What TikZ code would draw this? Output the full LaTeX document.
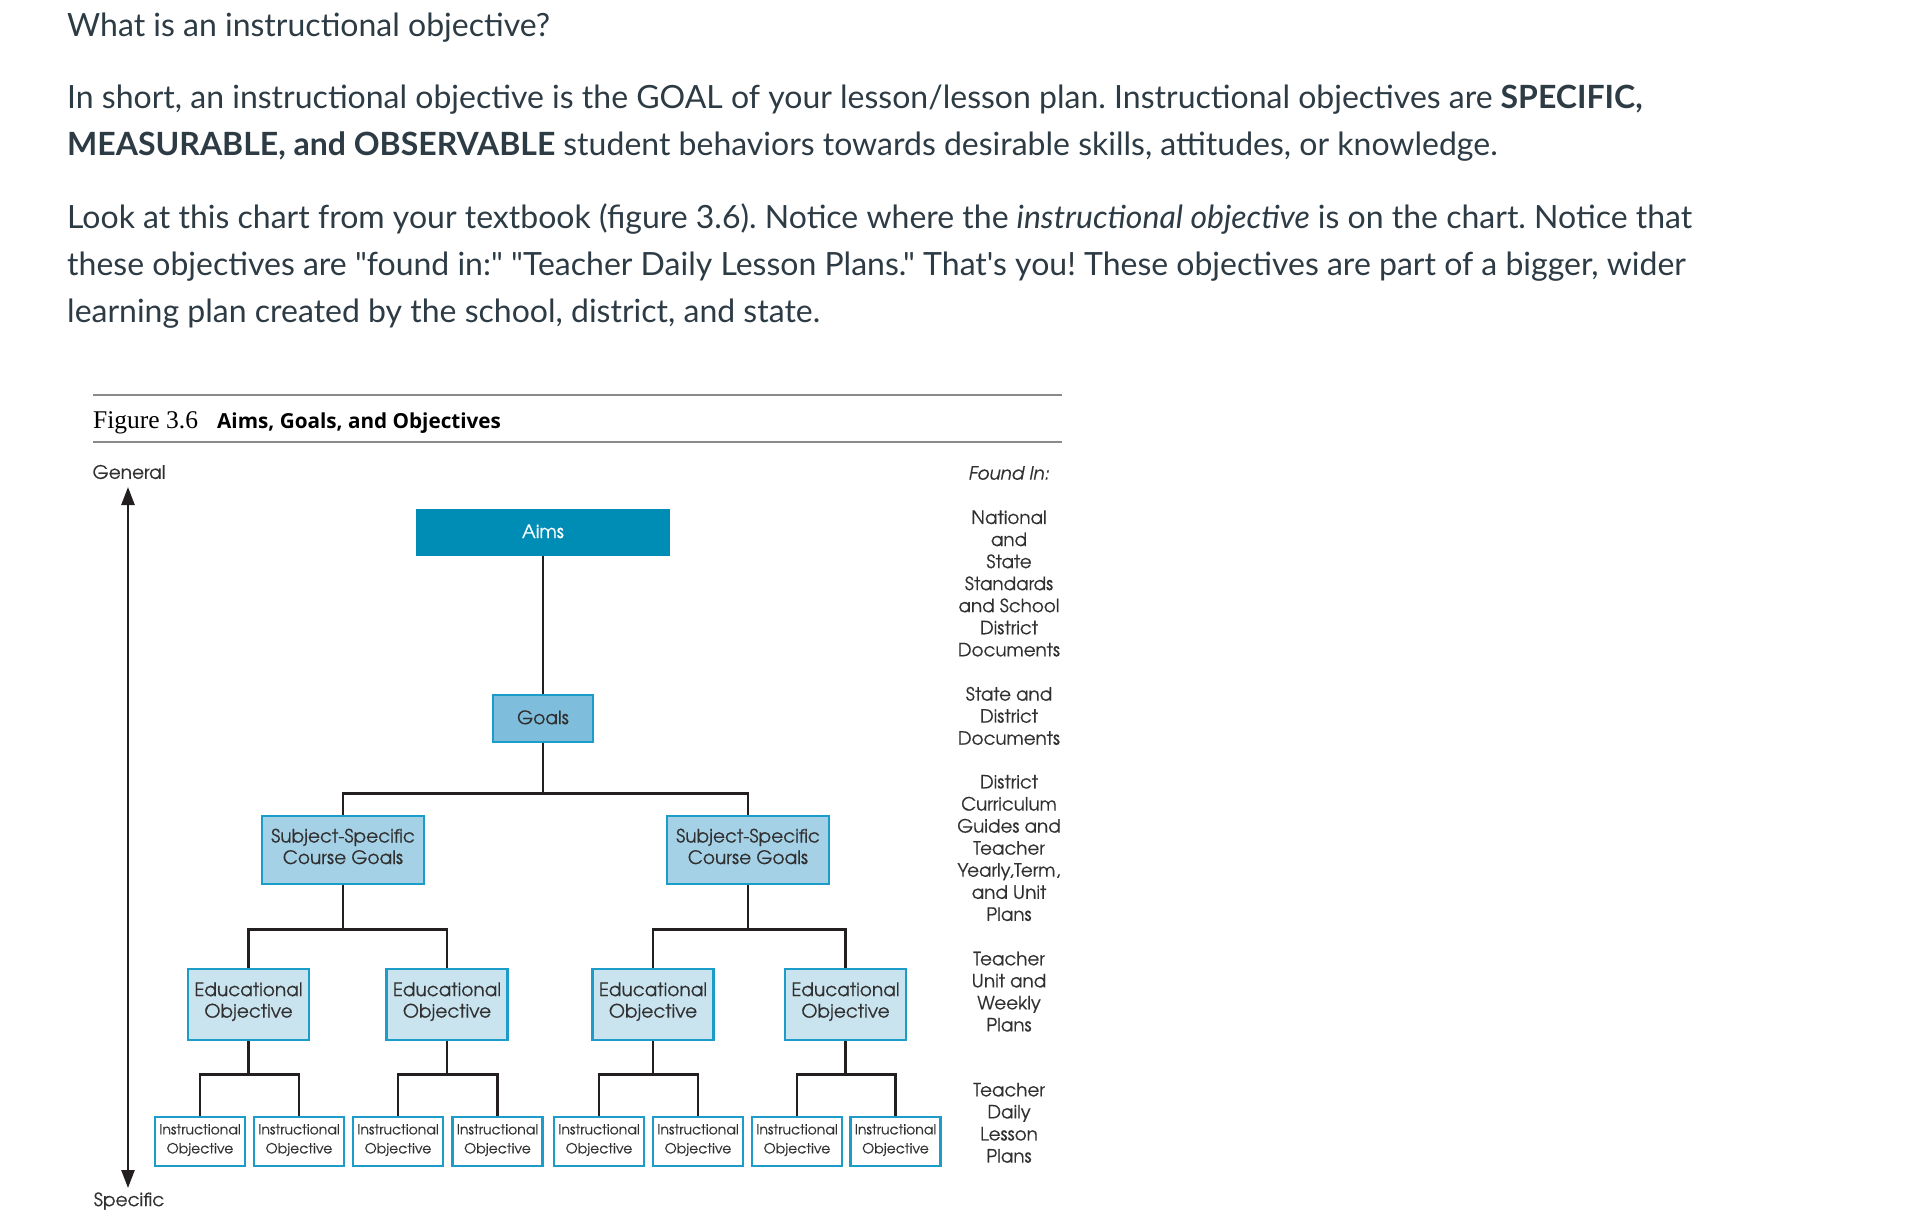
\documentclass[tikz,border=0pt]{standalone}
\usepackage{fontspec}
\newfontfamily\latof{Lato}
\newfontfamily\gfont[FakeBold=0.35]{TeX Gyre Adventor}
\newfontfamily\capserif{Liberation Serif}
\newfontfamily\capsans{Open Sans}
\usetikzlibrary{arrows.meta,calc}
\definecolor{bodytxt}{HTML}{2D3B45}
\definecolor{boxline}{HTML}{1C9CC8}
\definecolor{aimsfill}{HTML}{008DB5}
\definecolor{goalsfill}{HTML}{7EBEDC}
\definecolor{ssfill}{HTML}{A5D1E6}
\definecolor{eofill}{HTML}{C9E3EF}
\definecolor{boxtxt}{HTML}{303030}
\definecolor{rulegray}{HTML}{8A8A8A}
\definecolor{connc}{HTML}{231F20}
\frenchspacing
\begin{document}
\begin{tikzpicture}[x=1pt,y=-1pt,
  body/.style={anchor=base west, inner sep=0pt, text=bodytxt, font=\latof\fontsize{32}{38}\selectfont},
  box/.style={draw=boxline, line width=2.5pt, inner sep=0pt, align=center, text=boxtxt,
    font=\gfont\fontsize{18.5}{21.5}\selectfont},
  aimsbox/.style={box, fill=aimsfill, draw=aimsfill, text=white, minimum width=252, minimum height=45,
    execute at end node={\rule[-2.5pt]{0pt}{0pt}}},
  goalsbox/.style={box, fill=goalsfill, minimum width=100, minimum height=47,
    execute at end node={\rule[-2.5pt]{0pt}{0pt}}},
  ssbox/.style={box, fill=ssfill, minimum width=162, minimum height=68,
    execute at end node={\rule[-7.4pt]{0pt}{0pt}}},
  eobox/.style={box, fill=eofill, minimum width=121, minimum height=71,
    execute at end node={\rule[-9pt]{0pt}{0pt}}},
  iobox/.style={box, fill=white, minimum width=90, minimum height=49,
    font=\gfont\fontsize{14}{19}\selectfont,
    execute at end node={\rule[-5.5pt]{0pt}{0pt}}},
  conn/.style={draw=connc, line width=2.5pt},
  side/.style={align=center, inner sep=0pt, text=boxtxt, font=\gfont\fontsize{18.3}{22.06}\selectfont},
  axislabel/.style={inner sep=0pt, text=boxtxt, font=\gfont\fontsize{18.5}{21}\selectfont},
  figrule/.style={draw=rulegray, line width=2pt}
]
\useasboundingbox[fill=white] (0,0) rectangle (1922,1226);

% ---- text above the figure ----
\node[body] (t1) at (67,36) {What is an instructional objective?};
\node[body] (t2) at (67,108) {In short, an instructional objective is the GOAL of your lesson/lesson plan. Instructional objectives are \textbf{SPECIFIC,}};
\node[body] (t3) at (67,155) {\textbf{MEASURABLE, and OBSERVABLE} student behaviors towards desirable skills, attitudes, or knowledge.};
\node[body] (t4) at (67,228) {Look at this chart from your textbook (figure 3.6). Notice where the \textit{instructional objective} is on the chart. Notice that};
\node[body] (t5) at (67,275) {these objectives are "found in:" "Teacher Daily Lesson Plans." That's you! These objectives are part of a bigger, wider};
\node[body] (t6) at (67,322) {learning plan created by the school, district, and state.};

% ---- figure caption and rules ----
\coordinate (r1a) at (93,395); \coordinate (r1b) at (1062,395);
\coordinate (r2a) at (93,442); \coordinate (r2b) at (1062,442);
\draw[figrule] (r1a) -- (r1b);
\draw[figrule] (r2a) -- (r2b);
\node[anchor=base west, inner sep=0pt, font=\capserif\fontsize{25.5}{28}\selectfont] (fig) at (93,428) {Figure 3.6};
\node[anchor=base west, inner sep=0pt, font=\capsans\bfseries\fontsize{20.7}{24}\selectfont] (figt) at (217,428) {Aims, Goals, and Objectives};

% ---- axis ----
\node[axislabel] (gen) at (129,472) {General};
\node[axislabel] (spec) at (129,1201) {Specific};
\coordinate (atop) at (128,487);
\coordinate (abot) at (128,1188);
\draw[draw=connc, line width=2.5pt, {Triangle[length=18pt,width=13pt]}-{Triangle[length=18pt,width=13pt]}] (atop) -- (abot);

% ---- tree ----
\node[aimsbox] (aims) at (543,532.5) {Aims};
\node[goalsbox] (goals) at (543,718.5) {Goals};
\node[ssbox] (ss1) at (343,850) {Subject-Specific\\Course Goals};
\node[ssbox] (ss2) at (748,850) {Subject-Specific\\Course Goals};
\node[eobox] (eo1) at (248.5,1004.5) {Educational\\Objective};
\node[eobox] (eo2) at (447,1004.5) {Educational\\Objective};
\node[eobox] (eo3) at (653,1004.5) {Educational\\Objective};
\node[eobox] (eo4) at (845.5,1004.5) {Educational\\Objective};
\foreach \i/\x in {1/200,2/299,3/398,4/497.5,5/599,6/698,7/797,8/895.5}{
  \node[iobox] (io\i) at (\x,1141.5) {Instructional\\Objective};
}

\draw[conn] (aims) -- (goals);
\draw[conn] (goals.south) -- ++(0,50) coordinate (j0);
\draw[conn] (ss1.north) |- (j0) -| (ss2.north);

\draw[conn] (ss1.south) -- ++(0,44) coordinate (j1);
\draw[conn] (eo1.north) |- (j1) -| (eo2.north);
\draw[conn] (ss2.south) -- ++(0,44) coordinate (j2);
\draw[conn] (eo3.north) |- (j2) -| (eo4.north);

\draw[conn] (eo1.south) -- ++(0,33) coordinate (k1);
\draw[conn] (io1.north) |- (k1) -| (io2.north);
\draw[conn] (eo2.south) -- ++(0,33) coordinate (k2);
\draw[conn] (io3.north) |- (k2) -| (io4.north);
\draw[conn] (eo3.south) -- ++(0,33) coordinate (k3);
\draw[conn] (io5.north) |- (k3) -| (io6.north);
\draw[conn] (eo4.south) -- ++(0,33) coordinate (k4);
\draw[conn] (io7.north) |- (k4) -| (io8.north);

% ---- found in column ----
\node[side, font=\gfont\itshape\fontsize{18.3}{22.06}\selectfont] (found) at (1009,473) {Found In:};
\node[side] (f1) at (1009,583.5) {National\\and\\State\\Standards\\and School\\District\\Documents};
\node[side] (f2) at (1009,715.9) {State and\\District\\Documents};
\node[side] (f3) at (1009,848) {District\\Curriculum\\Guides and\\Teacher\\Yearly,Term,\\and Unit\\Plans};
\node[side] (f4) at (1009,991.7) {Teacher\\Unit and\\Weekly\\Plans};
\node[side] (f5) at (1009,1122.8) {Teacher\\Daily\\Lesson\\Plans};
\end{tikzpicture}
\end{document}
